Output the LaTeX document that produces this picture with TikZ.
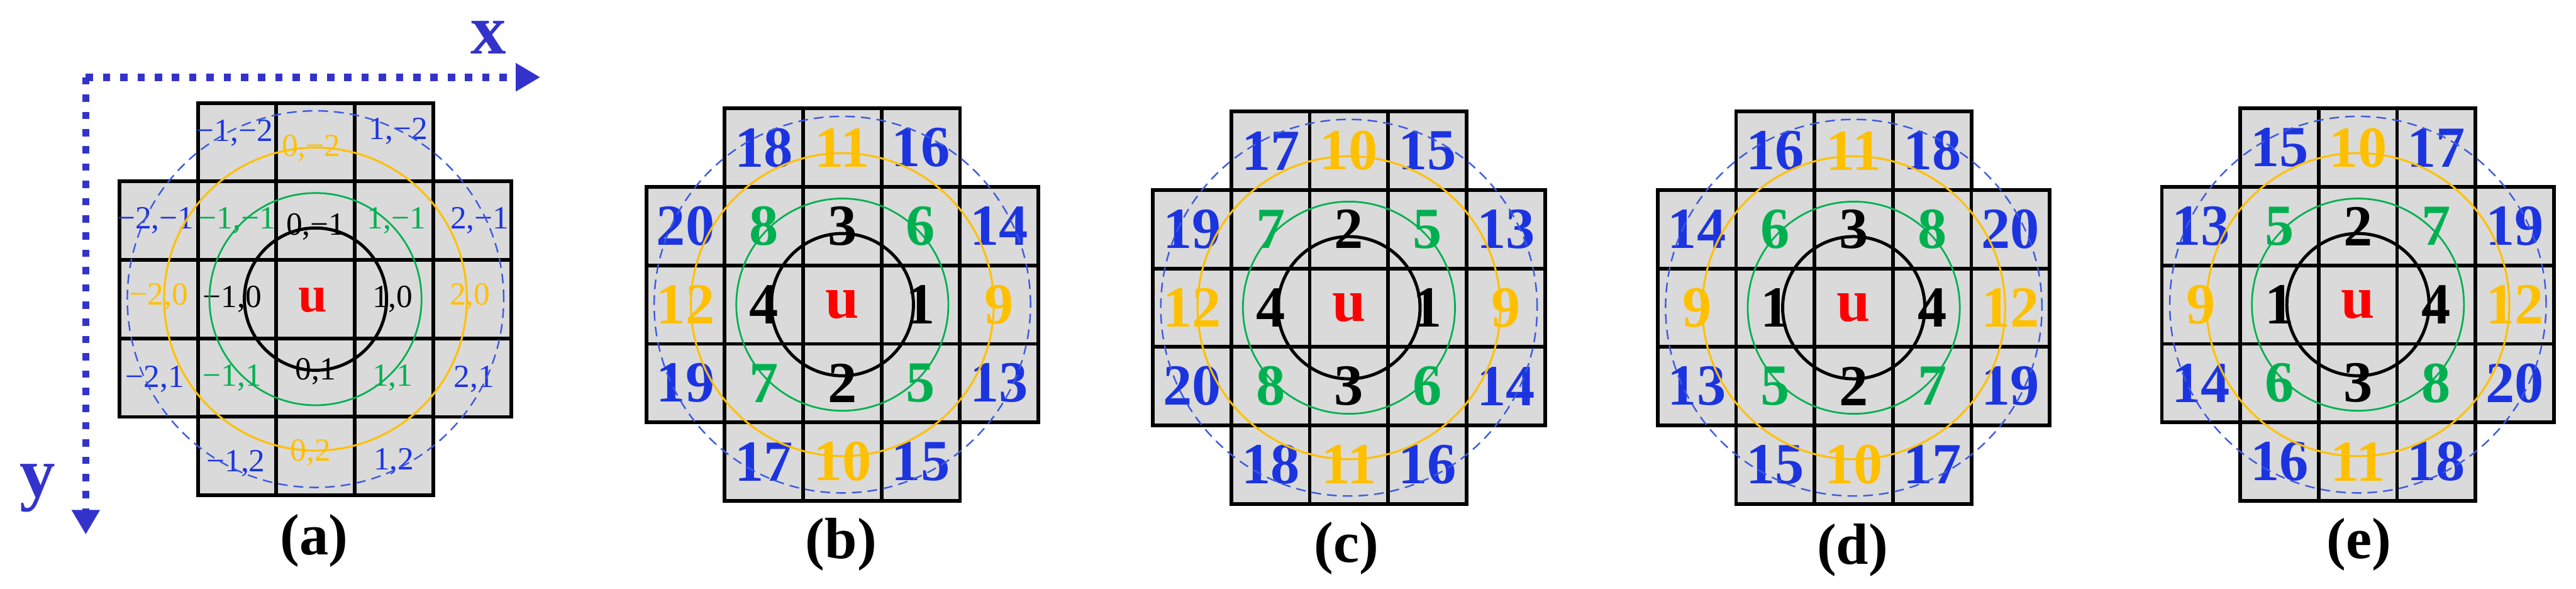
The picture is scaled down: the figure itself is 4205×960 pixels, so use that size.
\documentclass[tikz,border=0pt]{standalone}
\usepackage{fontspec}
\setmainfont{Liberation Serif}
\usetikzlibrary{arrows.meta}
\definecolor{tblue}{RGB}{28,52,224}
\definecolor{torange}{RGB}{255,192,0}
\definecolor{tgreen}{RGB}{0,176,80}
\definecolor{tred}{RGB}{255,0,0}
\definecolor{axblue}{RGB}{51,51,204}
\definecolor{cellgray}{RGB}{218,218,218}
\definecolor{dashblue}{RGB}{60,90,225}

\newcommand{\gridcells}[3]{% prefix, cx, cy
  \coordinate (#1c) at (#2,#3);
  \foreach \ci/\ri [count=\k] in {-1/-2,0/-2,1/-2,-2/-1,-1/-1,0/-1,1/-1,2/-1,-2/0,-1/0,0/0,1/0,2/0,-2/1,-1/1,0/1,1/1,2/1,-1/2,0/2,1/2}
    \node[cell] (#1\k) at ({#2+128*\ci},{#3+128*\ri}) {};
}
\newcommand{\gridrings}[1]{%
  \draw[ringk] (#1c) circle[radius=1.16cm];
  \draw[ringg] (#1c) circle[radius=1.73cm];
  \draw[ringo] (#1c) circle[radius=2.47cm];
  \draw[ringb] (#1c) circle[radius=3.07cm];
}
\newcommand{\numpanel}[4]{% prefix, cx, cy, list of text/style in cell order
  \gridcells{#1}{#2}{#3}
  \foreach \tx/\st [count=\k] in {#4}
    \node[\st] (#1t\k) at (#1\k) {\tx};
  \gridrings{#1}
}

\begin{document}
\begin{tikzpicture}[x=0.01cm,y=-0.01cm,
  cell/.style={rectangle, draw=black, fill=cellgray, line width=1.7pt, minimum size=1.28cm, inner sep=0pt},
  nb/.style={text=tblue, inner sep=0pt, font=\fontsize{27pt}{30pt}\selectfont\bfseries},
  no/.style={nb, text=torange},
  ng/.style={nb, text=tgreen},
  nk/.style={nb, text=black},
  nu/.style={text=tred, inner sep=0pt, font=\fontsize{28pt}{30pt}\selectfont\bfseries},
  lb/.style={text=tblue, inner sep=0pt, font=\fontsize{15pt}{17pt}\selectfont},
  lo/.style={lb, text=torange},
  lg/.style={lb, text=tgreen},
  lk/.style={lb, text=black},
  au/.style={text=tred, inner sep=0pt, font=\fontsize{24pt}{26pt}\selectfont\bfseries},
  ringk/.style={draw=black, line width=1.45pt},
  ringg/.style={draw=tgreen, line width=0.8pt},
  ringo/.style={draw=torange, line width=0.9pt},
  ringb/.style={draw=dashblue, line width=0.7pt, dash pattern=on 4.5pt off 2.8pt},
  plabel/.style={inner sep=0pt, font=\fontsize{27pt}{30pt}\selectfont\bfseries},
  axlab/.style={inner sep=0pt, text=axblue, font=\fontsize{33pt}{36pt}\selectfont\bfseries},
  axis/.style={draw=axblue, line width=3.4pt, dash pattern=on 3.4pt off 4.6pt, -{Triangle[length=11.4pt,width=12.4pt]}}
]
\useasboundingbox (0,0) rectangle (4205,960);

% ---------- panel (a) ----------
\gridcells{a}{515}{488}
\foreach \ci/\ri/\dx/\dy/\tx/\st in {
  -1/-2/-4/-15/{−1,−2}/lb, 0/-2/-7/10/{0,−2}/lo, 1/-2/7/-18/{1,−2}/lb,
  -2/-1/-5/0/{−2,−1}/lb, -1/-1/0/0/{−1,−1}/lg, 0/-1/0/10/{0,−1}/lk, 1/-1/4/0/{1,−1}/lg, 2/-1/12/0/{2,−1}/lb,
  -2/0/0/-4/{−2,0}/lo, -1/0/-8/0/{−1,0}/lk, 0/0/-4/2/u/au, 1/0/-2/0/{1,0}/lk, 2/0/-4/-4/{2,0}/lo,
  -2/1/-6/2/{−2,1}/lb, -1/1/-8/0/{−1,1}/lg, 0/1/0/-10/{0,1}/lk, 1/1/-2/0/{1,1}/lg, 2/1/3/2/{2,1}/lb,
  -1/2/-2/12/{−1,2}/lb, 0/2/-8/-6/{0,2}/lo, 1/2/0/9/{1,2}/lb}
  \node[\st] at ({515+128*\ci+\dx},{488+128*\ri+\dy}) {\tx};
\gridrings{a}

% axes
\coordinate (origin) at (140,126);
\coordinate (xend) at (882,126);
\coordinate (yend) at (140,872);
\draw[axis] (origin) -- (xend);
\draw[axis] (origin) -- (yend);
\node[axlab] (xlab) at (797,61) {x};
\node[axlab] (ylab) at (61,796) {y};

% ---------- panels (b)-(e) ----------
\numpanel{b}{1375}{497}{18/nb,11/no,16/nb,20/nb,8/ng,3/nk,6/ng,14/nb,12/no,4/nk,u/nu,1/nk,9/no,19/nb,7/ng,2/nk,5/ng,13/nb,17/nb,10/no,15/nb}
\numpanel{c}{2202}{502}{17/nb,10/no,15/nb,19/nb,7/ng,2/nk,5/ng,13/nb,12/no,4/nk,u/nu,1/nk,9/no,20/nb,8/ng,3/nk,6/ng,14/nb,18/nb,11/no,16/nb}
\numpanel{d}{3026}{502}{16/nb,11/no,18/nb,14/nb,6/ng,3/nk,8/ng,20/nb,9/no,1/nk,u/nu,4/nk,12/no,13/nb,5/ng,2/nk,7/ng,19/nb,15/nb,10/no,17/nb}
\numpanel{e}{3849}{497}{15/nb,10/no,17/nb,13/nb,5/ng,2/nk,7/ng,19/nb,9/no,1/nk,u/nu,4/nk,12/no,14/nb,6/ng,3/nk,8/ng,20/nb,16/nb,11/no,18/nb}

% captions
\node[plabel] (capa) at (513,882) {(a)};
\node[plabel] (capb) at (1373,888) {(b)};
\node[plabel] (capc) at (2198,894) {(c)};
\node[plabel] (capd) at (3024,897) {(d)};
\node[plabel] (cape) at (3851,888) {(e)};
\end{tikzpicture}
\end{document}
